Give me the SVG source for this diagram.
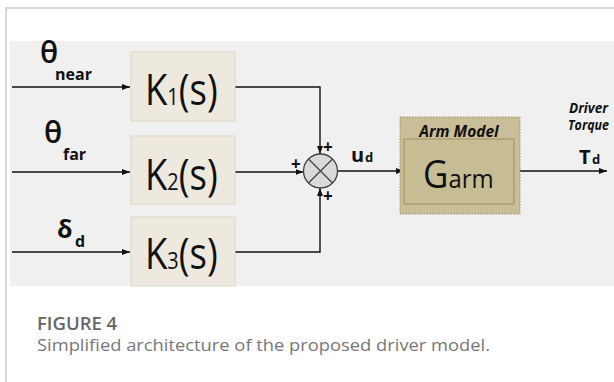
<svg xmlns="http://www.w3.org/2000/svg" width="614" height="382" viewBox="0 0 614 382">
  <defs>
    <marker id="arrow" viewBox="0 0 8 8" refX="8" refY="4" markerWidth="8" markerHeight="8" markerUnits="userSpaceOnUse" orient="auto">
      <path d="M0,1 L8,4 L0,7 Z" fill="#111"/>
    </marker>
    <style>
      .frame { stroke: #cccccc; stroke-width: 1.5; fill: none; }
      .panel { fill: #f0f0f0; }
      .kbox { fill: #ede9df; stroke: #dcd6c3; stroke-width: 1; }
      .ktxt { font-family: "Open Sans", "Liberation Sans", sans-serif; font-size: 44px; fill: #111; }
      .sym { font-family: "Open Sans", "Liberation Sans", sans-serif; fill: #111; }
      .sub { font-family: "Open Sans", "Liberation Sans", sans-serif; font-weight: 700; fill: #111; }
      .wire { stroke: #111; stroke-width: 1.4; fill: none; }
      .plus { font-family: "Open Sans", "Liberation Sans", sans-serif; font-weight: 700; font-size: 17px; fill: #111; }
      .ital { font-family: "Open Sans", "Liberation Sans", sans-serif; font-weight: 700; font-style: italic; fill: #111; }
      .cap1 { font-family: "Open Sans", "Noto Sans", sans-serif; font-weight: 600; font-size: 18.5px; fill: #666; }
      .cap2 { font-family: "Open Sans", "Noto Sans", sans-serif; font-size: 16.5px; fill: #777; }
    </style>
  </defs>

  <!-- card border and figure panel -->
  <path class="frame" d="M6,382 V8 H614"/>
  <rect class="panel" x="10" y="41" width="604" height="245"/>

  <!-- input labels -->
  <g id="input-labels">
    <text class="sym" x="40" y="63" font-size="30" font-weight="600">θ</text>
    <text class="sub" x="55" y="80" font-size="16">near</text>
    <text class="sym" x="44" y="143" font-size="30" font-weight="600">θ</text>
    <text class="sub" x="63" y="160" font-size="16">far</text>
    <text class="sym" x="57" y="238" font-size="25" font-weight="700">δ</text>
    <text class="sub" x="75" y="247" font-size="16">d</text>
  </g>

  <!-- connectors -->
  <g id="connectors">
    <line class="wire" x1="12" y1="87" x2="130" y2="87" marker-end="url(#arrow)"/>
    <line class="wire" x1="12" y1="172" x2="130" y2="172" marker-end="url(#arrow)"/>
    <line class="wire" x1="12" y1="252" x2="130" y2="252" marker-end="url(#arrow)"/>
    <path class="wire" d="M235,87 H320 V154" marker-end="url(#arrow)"/>
    <line class="wire" x1="235" y1="172" x2="303.5" y2="172" marker-end="url(#arrow)"/>
    <path class="wire" d="M235,252 H320 V188" marker-end="url(#arrow)"/>
    <line class="wire" x1="337" y1="171" x2="404" y2="171" marker-end="url(#arrow)"/>
    <line class="wire" x1="514" y1="171" x2="607" y2="171" marker-end="url(#arrow)"/>
  </g>

  <!-- controller blocks (labels narrowed to the block width) -->
  <g id="k1">
    <rect class="kbox" x="131" y="52" width="104" height="69"/>
    <text class="ktxt" transform="translate(145,105) scale(0.83,1)">K<tspan font-size="24">1</tspan>(s)</text>
  </g>
  <g id="k2">
    <rect class="kbox" x="131" y="136" width="104" height="68"/>
    <text class="ktxt" transform="translate(145,190) scale(0.83,1)">K<tspan font-size="24">2</tspan>(s)</text>
  </g>
  <g id="k3">
    <rect class="kbox" x="131" y="217" width="104" height="69"/>
    <text class="ktxt" transform="translate(145,269) scale(0.83,1)">K<tspan font-size="24">3</tspan>(s)</text>
  </g>

  <!-- summing junction -->
  <g id="sum">
    <circle cx="320.5" cy="171" r="17" fill="#d9d9d9" stroke="#444" stroke-width="1.3"/>
    <path d="M308.5,159 L332.5,183 M332.5,159 L308.5,183" stroke="#444" stroke-width="1.2"/>
    <text class="plus" x="323" y="153">+</text>
    <text class="plus" x="291" y="170">+</text>
    <text class="plus" x="323" y="202">+</text>
  </g>

  <!-- control signal label -->
  <g id="ud-label">
    <text class="sub" x="351" y="162" font-size="20">u</text>
    <text class="sub" x="365" y="162" font-size="13">d</text>
  </g>

  <!-- arm model block -->
  <g id="arm">
    <rect x="400" y="117" width="120" height="97" fill="#c8bf98" stroke="#978d5e" stroke-width="1" stroke-dasharray="1.5,1.5"/>
    <rect x="404" y="139" width="110" height="65" fill="#c6bd95" stroke="#a39a6a" stroke-width="1.2"/>
    <text class="ital" x="459" y="137" font-size="15.5" text-anchor="middle">Arm Model</text>
    <text class="sym" transform="translate(423,188) scale(0.92,1)" font-size="38">G<tspan font-size="26">arm</tspan></text>
  </g>

  <!-- output labels -->
  <g id="output-labels">
    <text class="ital" x="569" y="113" font-size="13.5">Driver</text>
    <text class="ital" x="568" y="130" font-size="13.5" textLength="41" lengthAdjust="spacingAndGlyphs">Torque</text>
    <text class="sub" x="579" y="164" font-size="20">T</text>
    <text class="sub" x="592" y="164" font-size="13">d</text>
  </g>

  <!-- caption -->
  <text class="cap1" x="37" y="330">FIGURE 4</text>
  <text class="cap2" x="37" y="351" textLength="453" lengthAdjust="spacingAndGlyphs">Simplified architecture of the proposed driver model.</text>
</svg>
